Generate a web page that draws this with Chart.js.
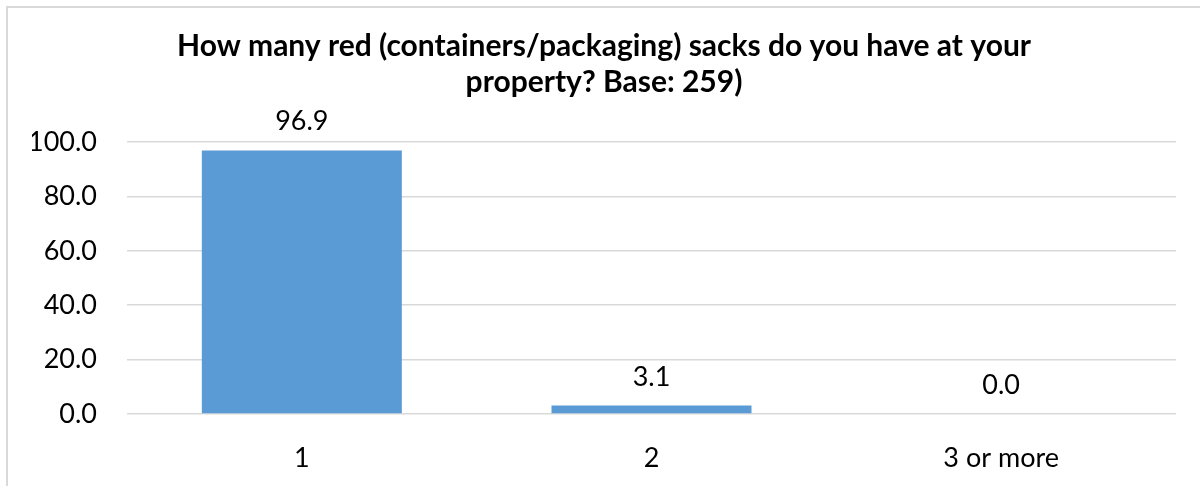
<!DOCTYPE html>
<html lang="en">
<head>
    <meta charset="UTF-8">
    <title>Red sacks</title>
    <script src="https://cdn.jsdelivr.net/npm/chart.js"></script>
    <style>
        html, body { margin: 0; padding: 0; background: #fff; overflow: hidden; }
        #wrap { position: relative; width: 1200px; height: 486px; }
        #frame { position: absolute; left: 6px; top: 6px; width: 1300px; height: 600px; border: 2px solid #d9d9d9; box-sizing: border-box; }
        canvas { position: absolute; left: 0; top: 0; }
    </style>
</head>
<body>
    <div id="wrap">
        <div id="frame"></div>
        <canvas id="chart" width="1200" height="486"></canvas>
    </div>
    <script>
        const categories = ["1", "2", "3 or more"];
        const percentages = [96.9, 3.1, 0.0];
        const yTicks = [0, 20, 40, 60, 80, 100];
        const titleLines = ["How many red (containers/packaging) sacks do you have at your", "property? Base: 259)"];

        const fontFamily = "Lato, 'Open Sans', sans-serif";

        // labels above each bar
        const barLabels = {
            id: "barLabels",
            afterDatasetsDraw(chart) {
                const ctx = chart.ctx;
                const meta = chart.getDatasetMeta(0);
                ctx.save();
                ctx.fillStyle = "#000";
                ctx.font = "27px " + fontFamily;
                ctx.textAlign = "center";
                ctx.textBaseline = "alphabetic";
                meta.data.forEach((bar, i) => {
                    ctx.fillText(percentages[i].toFixed(1), bar.x, bar.y - 20);
                });
                ctx.restore();
            }
        };

        new Chart(document.getElementById("chart"), {
            type: "bar",
            data: {
                labels: categories,
                datasets: [{
                    data: percentages,
                    backgroundColor: "#5b9bd5",
                    barPercentage: 0.572,
                    categoryPercentage: 1.0
                }]
            },
            options: {
                responsive: false,
                animation: false,
                layout: { padding: { left: 32, right: 24, top: 24, bottom: 0 } },
                plugins: {
                    legend: { display: false },
                    tooltip: { enabled: false },
                    title: {
                        display: true,
                        text: titleLines,
                        color: "#000",
                        font: { family: fontFamily, size: 30, weight: "bold", lineHeight: 1.2 },
                        padding: { top: 4, bottom: 42 }
                    }
                },
                scales: {
                    x: {
                        grid: { display: false },
                        border: { display: false },
                        ticks: { color: "#000", font: { family: fontFamily, size: 27 }, padding: 20 },
                        afterFit(scale) { scale.height = 72; }
                    },
                    y: {
                        min: 0,
                        max: 100,
                        afterBuildTicks(scale) { scale.ticks = yTicks.map(v => ({ value: v })); },
                        grid: { color: "#d9d9d9", lineWidth: 1.5, drawTicks: false },
                        border: { display: false },
                        ticks: {
                            color: "#000",
                            font: { family: fontFamily, size: 27 },
                            padding: 30,
                            callback: v => Number(v).toFixed(1)
                        },
                        afterFit(scale) { scale.width = 95; }
                    }
                }
            },
            plugins: [barLabels]
        });
    </script>
</body>
</html>
